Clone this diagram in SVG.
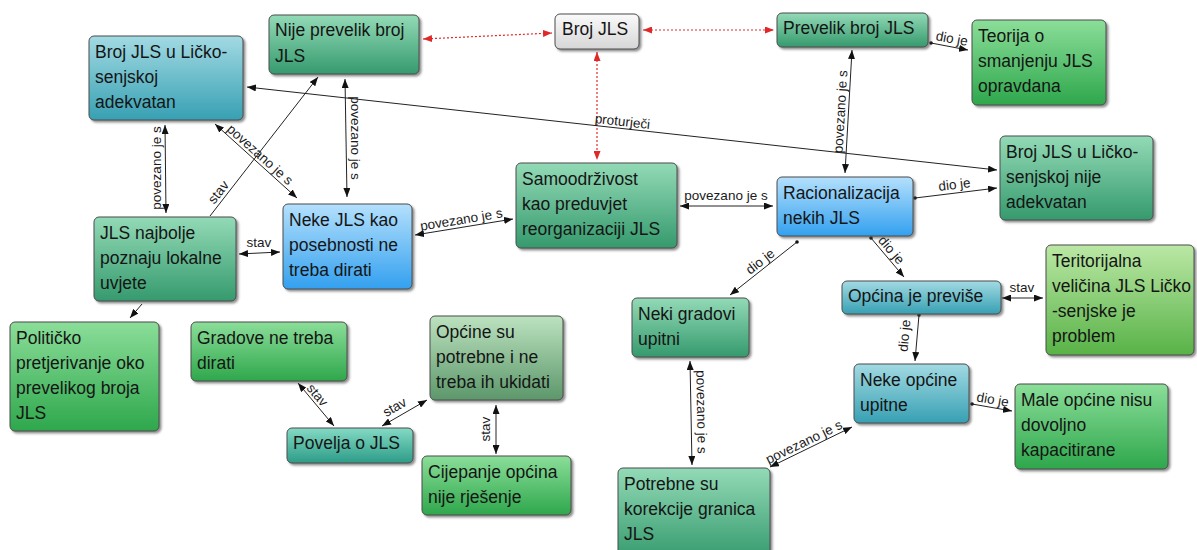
<svg xmlns="http://www.w3.org/2000/svg" width="1197" height="550" viewBox="0 0 1197 550">
<style>
.box{stroke:#4d4d4d;stroke-width:1;filter:url(#sh)}
.t{font-family:"Liberation Sans",Arial,sans-serif;font-size:17.5px;fill:#151515}
.l{font-family:"Liberation Sans",Arial,sans-serif;font-size:13.5px;fill:#1a1a1a}
.c{fill:none;stroke:#222;stroke-width:1}
.r{fill:none;stroke:#e02828;stroke-width:1.2;stroke-dasharray:2 2}
</style>
<defs>
<filter id="sh" x="-10%" y="-10%" width="130%" height="130%">
<feDropShadow dx="2" dy="2" stdDeviation="1.2" flood-color="#444" flood-opacity="0.6"/>
</filter>
<linearGradient id="gTeal" x1="0" y1="0" x2="0" y2="1"><stop offset="0" stop-color="#a2dae3"/><stop offset="1" stop-color="#37a0b3"/></linearGradient>
<linearGradient id="gSea" x1="0" y1="0" x2="0" y2="1"><stop offset="0" stop-color="#93dab7"/><stop offset="1" stop-color="#359a6d"/></linearGradient>
<linearGradient id="gGreen" x1="0" y1="0" x2="0" y2="1"><stop offset="0" stop-color="#8bde99"/><stop offset="1" stop-color="#2ea74c"/></linearGradient>
<linearGradient id="gBlue" x1="0" y1="0" x2="0" y2="1"><stop offset="0" stop-color="#b4e0fc"/><stop offset="1" stop-color="#33a0ef"/></linearGradient>
<linearGradient id="gGrey" x1="0" y1="0" x2="0" y2="1"><stop offset="0" stop-color="#fafafa"/><stop offset="1" stop-color="#d6d6d6"/></linearGradient>
<linearGradient id="gMuted" x1="0" y1="0" x2="0" y2="1"><stop offset="0" stop-color="#bce2bf"/><stop offset="1" stop-color="#5c976a"/></linearGradient>
<linearGradient id="gPov" x1="0" y1="0" x2="0" y2="1"><stop offset="0" stop-color="#84dac4"/><stop offset="1" stop-color="#2c9c88"/></linearGradient>
<linearGradient id="gLime" x1="0" y1="0" x2="0" y2="1"><stop offset="0" stop-color="#bbe8a5"/><stop offset="1" stop-color="#58b247"/></linearGradient>
<marker id="a" markerUnits="userSpaceOnUse" markerWidth="10" markerHeight="7" refX="9" refY="3.5" orient="auto-start-reverse"><path d="M0,0 L9,3.5 L0,7 z" fill="#111"/></marker>
<marker id="ar" markerUnits="userSpaceOnUse" markerWidth="10" markerHeight="7" refX="9" refY="3.5" orient="auto-start-reverse"><path d="M0,0 L9,3.5 L0,7 z" fill="#e02828"/></marker>
<marker id="d" markerUnits="userSpaceOnUse" markerWidth="5" markerHeight="5" refX="2.5" refY="2.5"><circle cx="2.5" cy="2.5" r="1.8" fill="#111"/></marker>
</defs>
<rect width="1197" height="550" fill="#fff"/>

<g id="connectors">
<line class="r" x1="423" y1="39" x2="552" y2="33" marker-start="url(#ar)" marker-end="url(#ar)"/>
<line class="r" x1="643" y1="30" x2="774" y2="30" marker-start="url(#ar)" marker-end="url(#ar)"/>
<line class="r" x1="597" y1="52" x2="597" y2="160" marker-start="url(#ar)" marker-end="url(#ar)"/>
<line class="c" x1="247" y1="87" x2="997" y2="170" marker-start="url(#a)" marker-end="url(#a)"/>
<text class="l" x="622" y="126" text-anchor="middle" transform="rotate(6.3 622 126)">proturječi</text>
<line class="c" x1="165" y1="125" x2="166" y2="213" marker-start="url(#a)" marker-end="url(#a)"/>
<text class="l" x="161" y="168" text-anchor="middle" transform="rotate(-90 161 168)">povezano je s</text>
<line class="c" x1="215" y1="124" x2="297" y2="198" marker-start="url(#a)" marker-end="url(#a)"/>
<text class="l" x="257" y="158" text-anchor="middle" transform="rotate(42 257 158)">povezano je s</text>
<line class="c" x1="210" y1="216" x2="318" y2="77" marker-end="url(#a)"/>
<text class="l" x="222" y="195" text-anchor="middle" transform="rotate(-52 222 195)">stav</text>
<line class="c" x1="345" y1="79" x2="347" y2="197" marker-start="url(#a)" marker-end="url(#a)"/>
<text class="l" x="351" y="138" text-anchor="middle" transform="rotate(90 351 138)">povezano je s</text>
<line class="c" x1="239" y1="254" x2="280" y2="252" marker-start="url(#a)" marker-end="url(#a)"/>
<text class="l" x="259" y="247" text-anchor="middle">stav</text>
<line class="c" x1="142" y1="304" x2="130" y2="318" marker-end="url(#a)"/>
<line class="c" x1="415" y1="235" x2="513" y2="219" marker-start="url(#a)" marker-end="url(#a)"/>
<text class="l" x="462" y="224" text-anchor="middle" transform="rotate(-9.3 462 224)">povezano je s</text>
<line class="c" x1="680" y1="206" x2="773" y2="206" marker-start="url(#a)" marker-end="url(#a)"/>
<text class="l" x="726" y="200" text-anchor="middle">povezano je s</text>
<line class="c" x1="852" y1="50" x2="845" y2="173" marker-start="url(#a)" marker-end="url(#a)"/>
<text class="l" x="845" y="112" text-anchor="middle" transform="rotate(-86.7 845 112)">povezano je s</text>
<line class="c" x1="931" y1="43" x2="968" y2="50" marker-start="url(#d)" marker-end="url(#a)"/>
<text class="l" x="951" y="43" text-anchor="middle" transform="rotate(10.7 951 43)">dio je</text>
<line class="c" x1="915" y1="198" x2="997" y2="188" marker-start="url(#d)" marker-end="url(#a)"/>
<text class="l" x="955" y="189" text-anchor="middle" transform="rotate(-7 955 189)">dio je</text>
<line class="c" x1="871" y1="238" x2="904" y2="277" marker-start="url(#d)" marker-end="url(#a)"/>
<text class="l" x="888" y="253" text-anchor="middle" transform="rotate(49.8 888 253)">dio je</text>
<line class="c" x1="797" y1="242" x2="730" y2="295" marker-start="url(#d)" marker-end="url(#a)"/>
<text class="l" x="763" y="265" text-anchor="middle" transform="rotate(-38.3 763 265)">dio je</text>
<line class="c" x1="1002" y1="298" x2="1043" y2="298" marker-start="url(#a)" marker-end="url(#a)"/>
<text class="l" x="1022" y="292" text-anchor="middle">stav</text>
<line class="c" x1="919" y1="315" x2="915" y2="361" marker-start="url(#d)" marker-end="url(#a)"/>
<text class="l" x="909" y="336" text-anchor="middle" transform="rotate(-85 909 336)">dio je</text>
<line class="c" x1="972" y1="404" x2="1012" y2="411" marker-start="url(#d)" marker-end="url(#a)"/>
<text class="l" x="992" y="404" text-anchor="middle" transform="rotate(9.9 992 404)">dio je</text>
<line class="c" x1="690" y1="361" x2="692" y2="465" marker-start="url(#a)" marker-end="url(#a)"/>
<text class="l" x="697" y="412" text-anchor="middle" transform="rotate(89 697 412)">povezano je s</text>
<line class="c" x1="770" y1="467" x2="852" y2="427" marker-start="url(#a)" marker-end="url(#a)"/>
<text class="l" x="806" y="446" text-anchor="middle" transform="rotate(-26 806 446)">povezano je s</text>
<line class="c" x1="298" y1="383" x2="334" y2="426" marker-start="url(#a)" marker-end="url(#a)"/>
<text class="l" x="314" y="398" text-anchor="middle" transform="rotate(50 314 398)">stav</text>
<line class="c" x1="382" y1="426" x2="427" y2="400" marker-start="url(#a)" marker-end="url(#a)"/>
<text class="l" x="397" y="411" text-anchor="middle" transform="rotate(-30 397 411)">stav</text>
<line class="c" x1="496" y1="405" x2="496" y2="454" marker-start="url(#a)" marker-end="url(#a)"/>
<text class="l" x="490" y="429" text-anchor="middle" transform="rotate(-90 490 429)">stav</text>
</g>

<g id="n1"><rect class="box" x="89" y="36" width="154" height="84" rx="5" fill="url(#gTeal)"/>
<text class="t"><tspan x="95" y="58">Broj JLS u Ličko-</tspan><tspan x="95" y="83">senjskoj</tspan><tspan x="95" y="108">adekvatan</tspan></text></g>
<g id="n2"><rect class="box" x="269" y="15" width="150" height="59" rx="5" fill="url(#gSea)"/>
<text class="t"><tspan x="275" y="36">Nije prevelik broj</tspan><tspan x="275" y="62">JLS</tspan></text></g>
<g id="n3"><rect class="box" x="555" y="14" width="84" height="35" rx="5" fill="url(#gGrey)"/>
<text class="t"><tspan x="562" y="35">Broj JLS</tspan></text></g>
<g id="n4"><rect class="box" x="777" y="13" width="151" height="34" rx="5" fill="url(#gSea)"/>
<text class="t"><tspan x="783" y="34">Prevelik broj JLS</tspan></text></g>
<g id="n5"><rect class="box" x="972" y="20" width="134" height="85" rx="5" fill="url(#gGreen)"/>
<text class="t"><tspan x="978" y="42">Teorija o</tspan><tspan x="978" y="67">smanjenju JLS</tspan><tspan x="978" y="92">opravdana</tspan></text></g>
<g id="n6"><rect class="box" x="1000" y="136" width="153" height="84" rx="5" fill="url(#gSea)"/>
<text class="t"><tspan x="1006" y="158">Broj JLS u Ličko-</tspan><tspan x="1006" y="183">senjskoj nije</tspan><tspan x="1006" y="208">adekvatan</tspan></text></g>
<g id="n7"><rect class="box" x="516" y="163" width="161" height="85" rx="5" fill="url(#gSea)"/>
<text class="t"><tspan x="522" y="185">Samoodrživost</tspan><tspan x="522" y="210">kao preduvjet</tspan><tspan x="522" y="235">reorganizaciji JLS</tspan></text></g>
<g id="n8"><rect class="box" x="777" y="177" width="136" height="59" rx="5" fill="url(#gBlue)"/>
<text class="t"><tspan x="783" y="199">Racionalizacija</tspan><tspan x="783" y="224">nekih JLS</tspan></text></g>
<g id="n9"><rect class="box" x="283" y="204" width="129" height="85" rx="5" fill="url(#gBlue)"/>
<text class="t"><tspan x="289" y="226">Neke JLS kao</tspan><tspan x="289" y="251">posebnosti ne</tspan><tspan x="289" y="276">treba dirati</tspan></text></g>
<g id="n10"><rect class="box" x="94" y="217" width="142" height="84" rx="5" fill="url(#gSea)"/>
<text class="t"><tspan x="100" y="239">JLS najbolje</tspan><tspan x="100" y="264">poznaju lokalne</tspan><tspan x="100" y="289">uvjete</tspan></text></g>
<g id="n11"><rect class="box" x="10" y="322" width="149" height="109" rx="5" fill="url(#gGreen)"/>
<text class="t"><tspan x="16" y="344">Političko</tspan><tspan x="16" y="369">pretjerivanje oko</tspan><tspan x="16" y="394">prevelikog broja</tspan><tspan x="16" y="419">JLS</tspan></text></g>
<g id="n12"><rect class="box" x="191" y="322" width="156" height="59" rx="5" fill="url(#gGreen)"/>
<text class="t"><tspan x="197" y="344">Gradove ne treba</tspan><tspan x="197" y="369">dirati</tspan></text></g>
<g id="n13"><rect class="box" x="430" y="316" width="133" height="84" rx="5" fill="url(#gMuted)"/>
<text class="t"><tspan x="436" y="338">Općine su</tspan><tspan x="436" y="363">potrebne i ne</tspan><tspan x="436" y="388">treba ih ukidati</tspan></text></g>
<g id="n14"><rect class="box" x="287" y="428" width="126" height="35" rx="5" fill="url(#gPov)"/>
<text class="t"><tspan x="293" y="449">Povelja o JLS</tspan></text></g>
<g id="n15"><rect class="box" x="422" y="456" width="149" height="59" rx="5" fill="url(#gGreen)"/>
<text class="t"><tspan x="428" y="478">Cijepanje općina</tspan><tspan x="428" y="503">nije rješenje</tspan></text></g>
<g id="n16"><rect class="box" x="632" y="298" width="117" height="59" rx="5" fill="url(#gSea)"/>
<text class="t"><tspan x="638" y="320">Neki gradovi</tspan><tspan x="638" y="345">upitni</tspan></text></g>
<g id="n17"><rect class="box" x="842" y="281" width="159" height="33" rx="5" fill="url(#gTeal)"/>
<text class="t"><tspan x="848" y="302">Općina je previše</tspan></text></g>
<g id="n18"><rect class="box" x="1046" y="245" width="148" height="110" rx="5" fill="url(#gLime)"/>
<text class="t"><tspan x="1052" y="267">Teritorijalna</tspan><tspan x="1052" y="292">veličina JLS Ličko</tspan><tspan x="1052" y="317">-senjske je</tspan><tspan x="1052" y="342">problem</tspan></text></g>
<g id="n19"><rect class="box" x="854" y="364" width="115" height="59" rx="5" fill="url(#gTeal)"/>
<text class="t"><tspan x="860" y="386">Neke općine</tspan><tspan x="860" y="411">upitne</tspan></text></g>
<g id="n20"><rect class="box" x="1015" y="384" width="153" height="85" rx="5" fill="url(#gGreen)"/>
<text class="t"><tspan x="1021" y="406">Male općine nisu</tspan><tspan x="1021" y="431">dovoljno</tspan><tspan x="1021" y="456">kapacitirane</tspan></text></g>
<g id="n21"><rect class="box" x="618" y="468" width="152" height="92" rx="5" fill="url(#gSea)"/>
<text class="t"><tspan x="624" y="490">Potrebne su</tspan><tspan x="624" y="515">korekcije granica</tspan><tspan x="624" y="540">JLS</tspan></text></g>
</svg>
